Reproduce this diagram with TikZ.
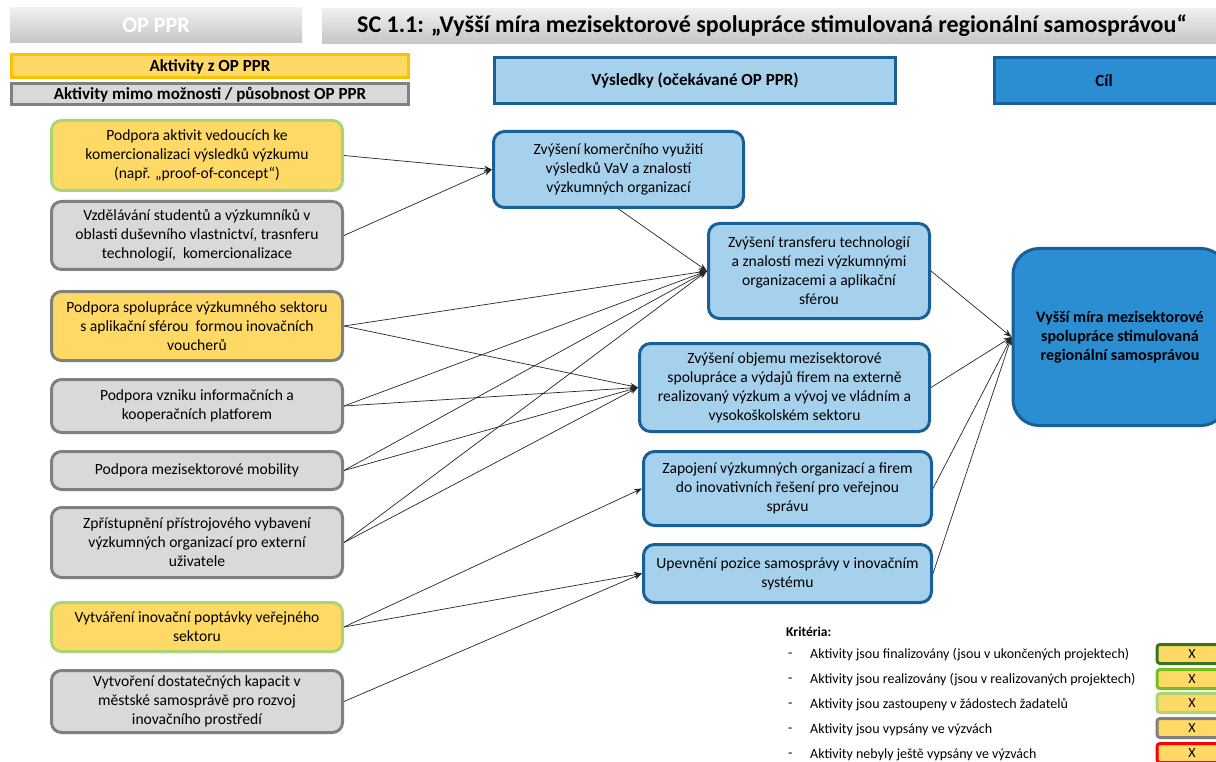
\documentclass[tikz,border=0pt]{standalone}
\usepackage{fontspec}
\setmainfont{Carlito}
\usetikzlibrary{arrows.meta}
\definecolor{yel}{RGB}{255,217,102}
\definecolor{grayfill}{RGB}{217,217,217}
\definecolor{grayline}{RGB}{128,128,128}
\definecolor{lgreen}{RGB}{169,213,120}
\definecolor{dgreen}{RGB}{56,118,29}
\definecolor{mgreen}{RGB}{120,190,32}
\definecolor{lblue}{RGB}{166,209,236}
\definecolor{dblue}{RGB}{24,96,152}
\definecolor{mblue}{RGB}{44,142,210}
\definecolor{gold}{RGB}{255,192,0}
\tikzset{
  txt/.style={font=\fontsize{15.6}{19}\selectfont, align=center, inner sep=0pt},
  act/.style={txt, rounded corners=10pt, line width=3pt, minimum width=291pt},
  yact/.style={act, fill=yel, draw=grayline},
  gact/.style={act, fill=grayfill, draw=grayline},
  gract/.style={act, fill=yel, draw=lgreen},
  res/.style={txt, rounded corners=11pt, line width=3pt, draw=dblue, fill=lblue},
  conn/.style={draw=black!85, line width=0.7pt, -{Stealth[length=8pt,width=6pt]}},
  hdr/.style={top color=gray!12, bottom color=gray!45, inner sep=0pt, minimum height=35pt},
  leg/.style={line width=3pt, inner sep=0pt, font=\bfseries\fontsize{17}{19}\selectfont, minimum width=397pt, minimum height=23pt},
  crit/.style={font=\fontsize{14}{16}\selectfont, anchor=west, inner sep=0pt},
  xbox/.style={fill=yel, line width=3pt, rounded corners=3pt, minimum width=70pt, minimum height=19pt, inner sep=0pt, font=\fontsize{14}{16}\selectfont}
}
\begin{document}
\begin{tikzpicture}[x=1pt,y=-1pt]
\useasboundingbox (0,0) rectangle (1216,762);
\clip (0,0) rectangle (1216,762);
\fill[white] (0,0) rectangle (1216,762);
% header
\node[hdr, minimum width=292pt, text=white, font=\bfseries\fontsize{22}{24}\selectfont] (hop) at (156,25.5) {OP PPR};
\node[hdr, minimum width=900pt, font=\bfseries\fontsize{24}{26}\selectfont] (hsc) at (772,26) {SC 1.1: „Vyšší míra mezisektorové spolupráce stimulovaná regionální samosprávou“};
% legend top
\node[leg, fill=yel, draw=gold] (lz) at (210,66.5) {Aktivity z OP PPR};
\node[leg, fill=grayfill, draw=grayline, minimum height=21pt] (lm) at (210,94.5) {Aktivity mimo možnosti / působnost OP PPR};
\node[leg, fill=lblue, draw=dblue, minimum width=401pt, minimum height=46pt] (hv) at (695,80.5) {Výsledky (očekávané OP PPR)};
\node[leg, fill=mblue, draw=dblue, minimum width=250pt, minimum height=46pt] (hc) at (1119,80.5) {Cíl\hspace*{30pt}};
% activities
\node[gract, minimum height=70pt] (L1) at (197,155.5) {Podpora aktivit vedoucích ke\\komercionalizaci výsledků výzkumu\\(např. „proof-of-concept“)};
\node[gact, minimum height=68pt] (L2) at (197,235.5) {Vzdělávání studentů a výzkumníků v\\oblasti duševního vlastnictví, trasnferu\\technologií,\ \ komercionalizace};
\node[yact, minimum height=69pt] (L3) at (197,326) {Podpora spolupráce výzkumného sektoru\\s aplikační sférou\ \ formou inovačních\\voucherů};
\node[gact, minimum height=53pt] (L4) at (197,406) {Podpora vzniku informačních a\\kooperačních platforem};
\node[gact, minimum height=38pt] (L5) at (197,470.5) {Podpora mezisektorové mobility};
\node[gact, minimum height=70pt] (L6) at (197,542.5) {Zpřístupnění přístrojového vybavení\\výzkumných organizací pro externí\\uživatele};
\node[gract, minimum height=49pt] (L7) at (197,627) {Vytváření inovační poptávky veřejného\\sektoru};
\node[gact, minimum height=62pt] (L8) at (197,701.5) {Vytvoření dostatečných kapacit v\\městské samosprávě pro rozvoj\\inovačního prostředí};
% results
\node[res, minimum width=250pt, minimum height=76pt] (M1) at (618.5,169.5) {Zvýšení komerčního využití\\výsledků VaV a znalostí\\výzkumných organizací};
\node[res, minimum width=221pt, minimum height=95pt] (M2) at (819,271) {Zvýšení transferu technologií\\a znalostí mezi výzkumnými\\organizacemi a aplikační\\sférou};
\node[res, minimum width=290pt, minimum height=88pt] (M3) at (784.5,387.5) {Zvýšení objemu mezisektorové\\spolupráce a výdajů firem na externě\\realizovaný výzkum a vývoj ve vládním a\\vysokoškolském sektoru};
\node[res, minimum width=288pt, minimum height=74pt] (M4) at (787.5,488.5) {Zapojení výzkumných organizací a firem\\do inovativních řešení pro veřejnou\\správu};
\node[res, minimum width=288pt, minimum height=58pt] (M5) at (787.5,573.5) {Upevnění pozice samosprávy v inovačním\\systému};
% goal
\node[txt, rounded corners=26pt, line width=3pt, draw=dblue, fill=mblue, minimum width=214pt, minimum height=177pt, font=\bfseries\fontsize{16}{19}\selectfont] (G) at (1120,337) {Vyšší míra mezisektorové\\spolupráce stimulovaná\\regionální samosprávou};
% connectors
\draw[conn] (L1.east) -- (M1.west);
\draw[conn] (L2.east) -- (M1.west);
\draw[conn] (M1.south) -- (M2.west);
\draw[conn] (L3.east) -- (M2.west);
\draw[conn] (L3.east) -- (M3.west);
\draw[conn] (L4.east) -- (M2.west);
\draw[conn] (L4.east) -- (M3.west);
\draw[conn] (L5.east) -- (M2.west);
\draw[conn] (L5.east) -- (M3.west);
\draw[conn] (L6.east) -- (M2.west);
\draw[conn] (L6.east) -- (M3.west);
\draw[conn] (L7.east) -- (M4.west);
\draw[conn] (L7.east) -- (M5.west);
\draw[conn] (L8.east) -- (M5.west);
\draw[conn] (M2.east) -- (G.west);
\draw[conn] (M3.east) -- (G.west);
\draw[conn] (M4.east) -- (G.west);
\draw[conn] (M5.east) -- (G.west);
% criteria
\node[crit, font=\bfseries\fontsize{13.5}{16}\selectfont] (kt) at (786,632) {Kritéria:};
\node[crit] (d1) at (788,655) {-};
\node[crit] (c1) at (810,655) {Aktivity jsou finalizovány (jsou v ukončených projektech)};
\node[crit] (d2) at (788,680) {-};
\node[crit] (c2) at (810,680) {Aktivity jsou realizovány (jsou v realizovaných projektech)};
\node[crit] (d3) at (788,705) {-};
\node[crit] (c3) at (810,705) {Aktivity jsou zastoupeny v žádostech žadatelů};
\node[crit] (d4) at (788,730) {-};
\node[crit] (c4) at (810,730) {Aktivity jsou vypsány ve výzvách};
\node[crit] (d5) at (788,755) {-};
\node[crit] (c5) at (810,755) {Aktivity nebyly ještě vypsány ve výzvách};
\node[xbox, draw=dgreen] (x1) at (1192,654) {X};
\node[xbox, draw=mgreen] (x2) at (1192,679) {X};
\node[xbox, draw=lgreen] (x3) at (1192,703) {X};
\node[xbox, draw=grayline] (x4) at (1192,728) {X};
\node[xbox, draw=red] (x5) at (1192,753) {X};
\end{tikzpicture}
\end{document}
